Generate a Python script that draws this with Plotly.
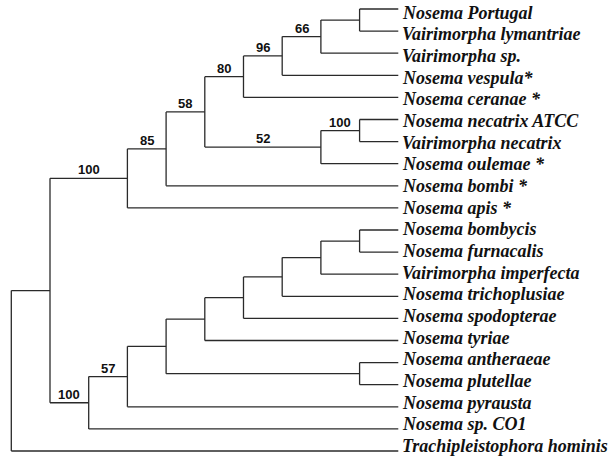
import plotly.graph_objects as go

# Leaf taxa, top to bottom
leaves = [
    "Nosema Portugal", "Vairimorpha lymantriae", "Vairimorpha sp.", "Nosema vespula*",
    "Nosema ceranae *", "Nosema necatrix ATCC", "Vairimorpha necatrix", "Nosema oulemae *",
    "Nosema bombi *", "Nosema apis *", "Nosema bombycis", "Nosema furnacalis",
    "Vairimorpha imperfecta", "Nosema trichoplusiae", "Nosema spodopterae", "Nosema tyriae",
    "Nosema antheraeae", "Nosema plutellae", "Nosema pyrausta", "Nosema sp. CO1",
    "Trachipleistophora hominis",
]
leaf_depth = 10

# Internal nodes (children listed before parents)
node_names = ["I", "H", "F", "D", "G", "E", "C", "B", "A",
              "S", "R", "Q", "P", "O", "N", "M", "L", "K", "J", "root"]
node_depth = [9, 8, 7, 6, 9, 8, 5, 4, 3,
              9, 8, 7, 6, 5, 9, 4, 3, 2, 1, 0]
node_children = [
    ["Nosema Portugal", "Vairimorpha lymantriae"],
    ["I", "Vairimorpha sp."],
    ["H", "Nosema vespula*"],
    ["F", "Nosema ceranae *"],
    ["Nosema necatrix ATCC", "Vairimorpha necatrix"],
    ["G", "Nosema oulemae *"],
    ["D", "E"],
    ["C", "Nosema bombi *"],
    ["B", "Nosema apis *"],
    ["Nosema bombycis", "Nosema furnacalis"],
    ["S", "Vairimorpha imperfecta"],
    ["R", "Nosema trichoplusiae"],
    ["Q", "Nosema spodopterae"],
    ["P", "Nosema tyriae"],
    ["Nosema antheraeae", "Nosema plutellae"],
    ["O", "N"],
    ["M", "Nosema pyrausta"],
    ["L", "Nosema sp. CO1"],
    ["A", "K"],
    ["J", "Trachipleistophora hominis"],
]
node_support = ["", "66", "96", "80", "100", "52", "58", "85", "100",
                "", "", "", "", "", "", "", "57", "100", "", ""]

# positions
pos = {name: (leaf_depth, i) for i, name in enumerate(leaves)}
parent = {}
for name, d, ch in zip(node_names, node_depth, node_children):
    ys = [pos[c][1] for c in ch]
    pos[name] = (d, (min(ys) + max(ys)) / 2)
    for c in ch:
        parent[c] = name

xs, ys = [], []
for name, ch in zip(node_names, node_children):
    px, py = pos[name]
    cy = [pos[c][1] for c in ch]
    xs += [px, px, None]
    ys += [min(cy), max(cy), None]
    for c in ch:
        cx, cyy = pos[c]
        xs += [px, cx, None]
        ys += [cyy, cyy, None]

fig = go.Figure()
fig.add_trace(go.Scatter(x=xs, y=ys, mode="lines",
                         line=dict(color="#2a2a2a", width=1.3),
                         hoverinfo="skip", showlegend=False))

annotations = []
for i, name in enumerate(leaves):
    x, y = pos[name]
    annotations.append(dict(
        x=x, y=y, xref="x", yref="y", text=name,
        showarrow=False, xanchor="left", yanchor="middle", xshift=2,
        yshift=-(3.8 - 0.44 * i),
        font=dict(family="Liberation Serif, Times New Roman, serif", size=18,
                  color="#111111", style="italic", weight="bold"),
    ))

for name, sup in zip(node_names, node_support):
    if not sup:
        continue
    x, y = pos[name]
    px = pos[parent[name]][0]
    annotations.append(dict(
        x=(x + px) / 2, y=y, xref="x", yref="y", text="<b>%s</b>" % sup,
        showarrow=False, xanchor="center", yanchor="bottom", yshift=-1,
        font=dict(family="Liberation Sans, Arial, sans-serif", size=13, color="#111111"),
    ))

fig.update_layout(
    width=614, height=462,
    margin=dict(l=0, r=0, t=0, b=0),
    paper_bgcolor="white", plot_bgcolor="white",
    annotations=annotations,
    xaxis=dict(range=[-0.292, 15.574], visible=False, fixedrange=True),
    yaxis=dict(range=[20.498, -0.407], visible=False, fixedrange=True),
)

fig.write_html("out.html", config={"displayModeBar": False},
               post_script="document.body.style.margin='0';document.body.style.overflow='hidden';")
